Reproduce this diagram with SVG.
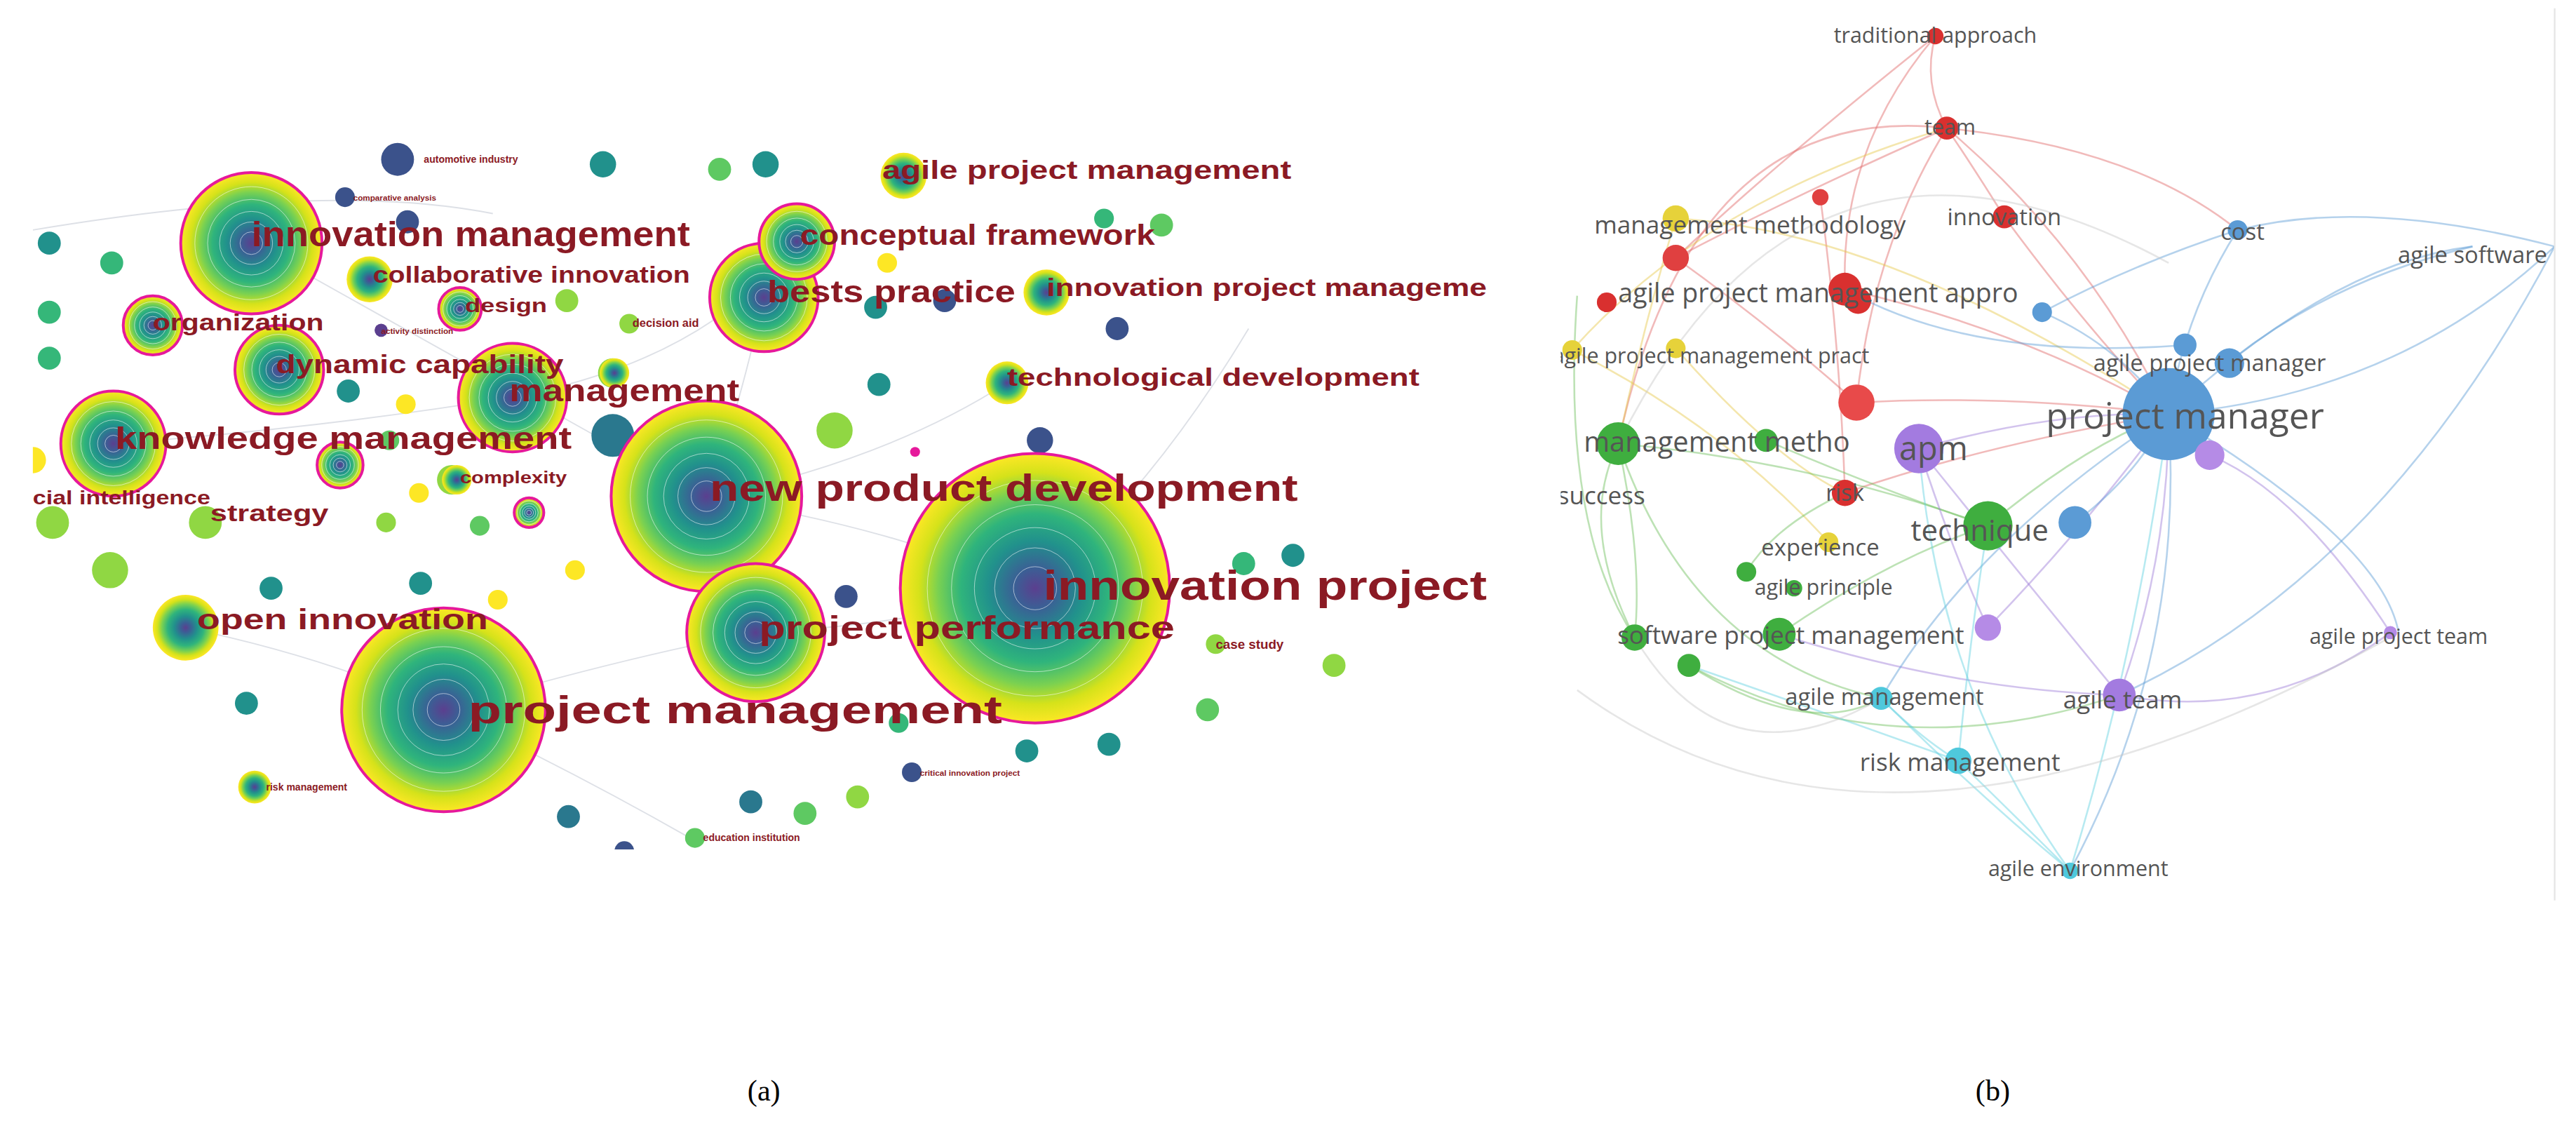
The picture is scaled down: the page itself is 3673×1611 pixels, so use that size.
<svg xmlns="http://www.w3.org/2000/svg" xmlns:xlink="http://www.w3.org/1999/xlink" width="3673" height="1611" viewBox="0 0 3673 1611">
<defs>
<radialGradient id="vir">
<stop offset="0" stop-color="#5b3f8f"/>
<stop offset="0.15" stop-color="#3b5f95"/>
<stop offset="0.35" stop-color="#21918c"/>
<stop offset="0.55" stop-color="#2fb47c"/>
<stop offset="0.72" stop-color="#7ad151"/>
<stop offset="0.86" stop-color="#d5e21a"/>
<stop offset="1" stop-color="#fde725"/>
</radialGradient>
<symbol id="bub" overflow="visible">
<circle r="1" fill="url(#vir)" stroke="#e6199b" stroke-width="4" vector-effect="non-scaling-stroke"/>
<g fill="none" stroke="#fff" stroke-opacity="0.55" stroke-width="1">
<circle r="0.8" vector-effect="non-scaling-stroke"/><circle r="0.62" vector-effect="non-scaling-stroke"/><circle r="0.45" vector-effect="non-scaling-stroke"/><circle r="0.3" vector-effect="non-scaling-stroke"/><circle r="0.16" vector-effect="non-scaling-stroke"/>
</g>
</symbol>
<symbol id="bubY" overflow="visible">
<circle r="1" fill="url(#vir)"/>
</symbol>
<clipPath id="ca"><rect x="20" y="85" width="890" height="432"/></clipPath>
<clipPath id="cb"><rect x="950" y="0" width="605" height="550"/></clipPath>
<style>
.la{font-family:"Liberation Sans",Arial,sans-serif;font-weight:bold;fill:#8b1a24}
.lb{font-family:"Open Sans","Noto Sans",sans-serif;fill:#555}
.cap{font-family:"Liberation Serif","Times New Roman",serif;font-size:18px;fill:#000}
.ea{fill:none;stroke:#cfd3dc;stroke-width:0.8;opacity:0.7}
.eb path{fill:none;stroke-width:1.1;opacity:0.45}
</style>
</defs>
<rect width="3673" height="1611" fill="#fff"/>
<g transform="scale(2.3425)">
<g id="panel-a" clip-path="url(#ca)">
<g id="edges-a">
<path class="ea" d="M20 140 Q200 110 300 130"/><path class="ea" d="M270 432 Q380 400 460 385"/><path class="ea" d="M430 303 Q540 320 630 358"/>
<path class="ea" d="M460 385 Q560 380 630 358"/><path class="ea" d="M153 148 Q300 230 430 303"/><path class="ea" d="M465 180 Q450 250 430 303"/>
<path class="ea" d="M613 233 Q540 280 430 303"/><path class="ea" d="M270 432 Q350 470 420 510"/><path class="ea" d="M630 358 Q700 300 760 200"/>
<path class="ea" d="M70 270 Q200 260 310 242"/><path class="ea" d="M485 147 Q430 220 310 242"/><path class="ea" d="M270 432 Q200 400 113 382"/>
</g>
<g id="dots-a">
<circle cx="242" cy="97" r="10" fill="#3b528b"/><circle cx="210" cy="120" r="6" fill="#3b528b"/><circle cx="367" cy="100" r="8" fill="#21918c"/>
<circle cx="438" cy="103" r="7" fill="#5ec962"/><circle cx="466" cy="100" r="8" fill="#21918c"/><circle cx="30" cy="148" r="7" fill="#21918c"/>
<circle cx="68" cy="160" r="7" fill="#35b779"/><circle cx="540" cy="160" r="6" fill="#fde725"/><circle cx="707" cy="137" r="7" fill="#5ec962"/>
<circle cx="672" cy="133" r="6" fill="#35b779"/><circle cx="575" cy="183" r="7" fill="#3b528b"/><circle cx="533" cy="187" r="7" fill="#21918c"/>
<circle cx="680" cy="200" r="7" fill="#3b528b"/><circle cx="30" cy="190" r="7" fill="#35b779"/><circle cx="345" cy="183" r="7" fill="#90d743"/>
<circle cx="248" cy="135" r="7" fill="#3b528b"/><circle cx="212" cy="238" r="7" fill="#21918c"/><circle cx="247" cy="246" r="6" fill="#fde725"/>
<circle cx="373" cy="227" r="9" fill="#90d743"/><circle cx="373" cy="265" r="13" fill="#2a788e"/><circle cx="508" cy="262" r="11" fill="#90d743"/>
<circle cx="535" cy="234" r="7" fill="#21918c"/><circle cx="633" cy="268" r="8" fill="#3b528b"/><circle cx="30" cy="218" r="7" fill="#35b779"/>
<circle cx="20" cy="280" r="8" fill="#fde725"/><circle cx="237" cy="268" r="6" fill="#5ec962"/><circle cx="255" cy="300" r="6" fill="#fde725"/>
<circle cx="275" cy="292" r="9" fill="#90d743"/><circle cx="235" cy="318" r="6" fill="#90d743"/><circle cx="125" cy="318" r="10" fill="#90d743"/>
<circle cx="67" cy="347" r="11" fill="#90d743"/><circle cx="350" cy="347" r="6" fill="#fde725"/><circle cx="292" cy="320" r="6" fill="#5ec962"/>
<circle cx="32" cy="318" r="10" fill="#90d743"/><circle cx="256" cy="355" r="7" fill="#21918c"/><circle cx="165" cy="358" r="7" fill="#21918c"/>
<circle cx="150" cy="428" r="7" fill="#21918c"/><circle cx="515" cy="363" r="7" fill="#3b528b"/><circle cx="303" cy="365" r="6" fill="#fde725"/>
<circle cx="757" cy="343" r="7" fill="#35b779"/><circle cx="787" cy="338" r="7" fill="#21918c"/><circle cx="812" cy="405" r="7" fill="#90d743"/>
<circle cx="735" cy="432" r="7" fill="#5ec962"/><circle cx="625" cy="457" r="7" fill="#21918c"/><circle cx="675" cy="453" r="7" fill="#21918c"/>
<circle cx="547" cy="440" r="6" fill="#35b779"/><circle cx="522" cy="485" r="7" fill="#90d743"/><circle cx="457" cy="488" r="7" fill="#2a788e"/>
<circle cx="555" cy="470" r="6" fill="#3b528b"/><circle cx="346" cy="497" r="7" fill="#2a788e"/><circle cx="490" cy="495" r="7" fill="#5ec962"/>
<circle cx="380" cy="518" r="6" fill="#3b528b"/><circle cx="423" cy="510" r="6" fill="#5ec962"/><circle cx="740" cy="392" r="6" fill="#90d743"/>
<circle cx="557" cy="275" r="3" fill="#e6199b"/><circle cx="232" cy="201" r="4" fill="#5b3f8f"/><circle cx="383" cy="197" r="6" fill="#90d743"/>
</g>
<g id="bubbles-a">
<g id="n-pm"><use xlink:href="#bub" transform="translate(270,432) scale(62)"/></g>
<g id="n-ip"><use xlink:href="#bub" transform="translate(630,358) scale(82)"/></g>
<g id="n-npd"><use xlink:href="#bub" transform="translate(430,302) scale(58)"/></g>
<g id="n-pp"><use xlink:href="#bub" transform="translate(460,385) scale(42)"/></g>
<g id="n-im"><use xlink:href="#bub" transform="translate(153,148) scale(43)"/></g>
<g id="n-bp"><use xlink:href="#bub" transform="translate(465,181) scale(33)"/></g>
<g id="n-cf"><use xlink:href="#bub" transform="translate(485,147) scale(23)"/></g>
<g id="n-m"><use xlink:href="#bub" transform="translate(312,242) scale(33)"/></g>
<g id="n-km"><use xlink:href="#bub" transform="translate(69,270) scale(32)"/></g>
<g id="n-dc"><use xlink:href="#bub" transform="translate(170,225) scale(27)"/></g>
<g id="n-org"><use xlink:href="#bub" transform="translate(93,198) scale(18)"/></g>
<g id="n-des"><use xlink:href="#bub" transform="translate(280,188) scale(13)"/></g>
<g id="n-s1"><use xlink:href="#bub" transform="translate(207,283) scale(14)"/></g>
<g id="n-s2"><use xlink:href="#bub" transform="translate(322,312) scale(9)"/></g>
<g id="n-oi"><use xlink:href="#bubY" transform="translate(113,382) scale(20)"/></g>
<g id="n-ci"><use xlink:href="#bubY" transform="translate(225,170) scale(14)"/></g>
<g id="n-apm"><use xlink:href="#bubY" transform="translate(550,107) scale(14)"/></g>
<g id="n-ipm"><use xlink:href="#bubY" transform="translate(637,178) scale(14)"/></g>
<g id="n-td"><use xlink:href="#bubY" transform="translate(613,233) scale(13)"/></g>
<g id="n-cx"><use xlink:href="#bubY" transform="translate(278,292) scale(9)"/></g>
<g id="n-rm"><use xlink:href="#bubY" transform="translate(155,479) scale(10)"/></g>
<g id="n-kx"><use xlink:href="#bubY" transform="translate(374,227) scale(9)"/></g>
</g>
<g id="labels-a">
<text class="la" x="153" y="150" font-size="21" textLength="267" lengthAdjust="spacingAndGlyphs">innovation management</text>
<text class="la" x="487" y="149" font-size="17" textLength="216" lengthAdjust="spacingAndGlyphs">conceptual framework</text>
<text class="la" x="537" y="109" font-size="16" textLength="249" lengthAdjust="spacingAndGlyphs">agile project management</text>
<text class="la" x="227" y="172" font-size="14" textLength="193" lengthAdjust="spacingAndGlyphs">collaborative innovation</text>
<text class="la" x="637" y="180" font-size="15" textLength="268" lengthAdjust="spacingAndGlyphs">innovation project manageme</text>
<text class="la" x="283" y="190" font-size="12" textLength="50" lengthAdjust="spacingAndGlyphs">design</text>
<text class="la" x="93" y="201" font-size="14" textLength="104" lengthAdjust="spacingAndGlyphs">organization</text>
<text class="la" x="467" y="184" font-size="19" textLength="151" lengthAdjust="spacingAndGlyphs">bests practice</text>
<text class="la" x="613" y="235" font-size="15" textLength="251" lengthAdjust="spacingAndGlyphs">technological development</text>
<text class="la" x="168" y="227" font-size="16" textLength="175" lengthAdjust="spacingAndGlyphs">dynamic capability</text>
<text class="la" x="310" y="244" font-size="19" textLength="140" lengthAdjust="spacingAndGlyphs">management</text>
<text class="la" x="70" y="273" font-size="19" textLength="278" lengthAdjust="spacingAndGlyphs">knowledge management</text>
<text class="la" x="280" y="294" font-size="10" textLength="65" lengthAdjust="spacingAndGlyphs">complexity</text>
<text class="la" x="20" y="307" font-size="12" textLength="108" lengthAdjust="spacingAndGlyphs">cial intelligence</text>
<text class="la" x="128" y="317" font-size="14" textLength="72" lengthAdjust="spacingAndGlyphs">strategy</text>
<text class="la" x="432" y="305" font-size="23" textLength="358" lengthAdjust="spacingAndGlyphs">new product development</text>
<text class="la" x="635" y="365" font-size="25" textLength="270" lengthAdjust="spacingAndGlyphs">innovation project</text>
<text class="la" x="462" y="389" font-size="20" textLength="253" lengthAdjust="spacingAndGlyphs">project performance</text>
<text class="la" x="120" y="383" font-size="17" textLength="177" lengthAdjust="spacingAndGlyphs">open innovation</text>
<text class="la" x="285" y="440" font-size="24" textLength="325" lengthAdjust="spacingAndGlyphs">project management</text>
<text class="la" x="740" y="395" font-size="8">case study</text>
<text class="la" x="162" y="481" font-size="6">risk management</text>
<text class="la" x="560" y="472" font-size="5">critical innovation project</text>
<text class="la" x="428" y="512" font-size="6">education institution</text>
<text class="la" x="258" y="99" font-size="6">automotive industry</text>
<text class="la" x="215" y="122" font-size="5">comparative analysis</text>
<text class="la" x="232" y="203" font-size="5">activity distinction</text>
<text class="la" x="385" y="199" font-size="7">decision aid</text>
</g>
</g>
<g id="panel-b" clip-path="url(#cb)">
<g id="connectors" class="eb">
<path stroke="#e06666" d="M1178 22 Q1170 50 1185 78"/><path stroke="#e06666" d="M1178 22 Q1120 90 1123 176"/><path stroke="#e06666" d="M1178 22 Q1080 100 1020 157"/>
<path stroke="#e06666" d="M1185 78 Q1200 100 1220 132"/><path stroke="#e06666" d="M1185 78 Q1140 150 1130 245"/><path stroke="#e06666" d="M1185 78 Q1090 120 1020 157"/>
<path stroke="#e06666" d="M1185 78 Q1300 90 1362 140"/><path stroke="#e06666" d="M1185 78 Q1270 150 1320 252"/><path stroke="#e06666" d="M1220 132 Q1270 200 1320 252"/>
<path stroke="#e06666" d="M1123 176 Q1230 200 1320 252"/><path stroke="#e06666" d="M1130 245 Q1220 240 1320 252"/><path stroke="#e06666" d="M1123 300 Q1210 270 1320 252"/>
<path stroke="#e06666" d="M1108 120 Q1120 210 1123 300"/><path stroke="#e06666" d="M1020 157 Q1080 200 1130 245"/><path stroke="#e06666" d="M1185 78 Q1030 60 985 270"/>
<path stroke="#e6c84a" d="M1020 133 Q1000 200 985 270"/><path stroke="#e6c84a" d="M957 213 Q1050 260 1113 330"/><path stroke="#e6c84a" d="M1020 212 Q1080 280 1123 300"/>
<path stroke="#e6c84a" d="M1020 133 Q1150 140 1320 252"/><path stroke="#e6c84a" d="M957 213 Q1040 120 1185 78"/>
<path stroke="#6cbf5a" d="M985 270 Q1000 340 995 388"/><path stroke="#6cbf5a" d="M985 270 Q1100 280 1210 320"/><path stroke="#6cbf5a" d="M1083 386 Q1150 340 1210 320"/>
<path stroke="#6cbf5a" d="M995 388 Q960 320 985 270"/><path stroke="#6cbf5a" d="M1075 268 Q1150 300 1210 320"/><path stroke="#6cbf5a" d="M1210 320 Q1270 270 1320 252"/>
<path stroke="#6cbf5a" d="M1028 405 Q1100 450 1145 425"/><path stroke="#6cbf5a" d="M985 270 Q1030 400 1145 425"/><path stroke="#6cbf5a" d="M1063 348 Q1080 320 1123 300"/>
<path stroke="#6cbf5a" d="M960 180 Q950 320 995 388"/><path stroke="#6cbf5a" d="M1028 405 Q1150 470 1290 423"/>
<path stroke="#9b79d6" d="M1168 273 Q1250 250 1320 252"/><path stroke="#9b79d6" d="M1290 423 Q1320 340 1320 252"/><path stroke="#9b79d6" d="M1455 385 Q1400 300 1345 277"/>
<path stroke="#9b79d6" d="M1210 382 Q1270 320 1320 252"/><path stroke="#9b79d6" d="M1168 273 Q1190 340 1210 382"/><path stroke="#9b79d6" d="M1290 423 Q1380 440 1455 385"/>
<path stroke="#9b79d6" d="M1168 273 Q1230 350 1290 423"/><path stroke="#9b79d6" d="M1083 386 Q1190 420 1290 423"/>
<path stroke="#5b9bd5" d="M1320 252 Q1330 190 1362 140"/><path stroke="#5b9bd5" d="M1320 252 Q1420 160 1505 150"/><path stroke="#5b9bd5" d="M1357 220 Q1420 170 1505 150"/>
<path stroke="#5b9bd5" d="M1243 190 Q1300 160 1362 140"/><path stroke="#5b9bd5" d="M1243 190 Q1290 210 1320 252"/><path stroke="#5b9bd5" d="M1263 318 Q1300 290 1320 252"/>
<path stroke="#5b9bd5" d="M1320 252 Q1330 400 1260 530"/><path stroke="#5b9bd5" d="M1362 140 Q1440 120 1555 150"/><path stroke="#5b9bd5" d="M1320 252 Q1460 240 1555 150"/>
<path stroke="#5b9bd5" d="M1330 210 Q1200 220 1123 176"/><path stroke="#5b9bd5" d="M1320 252 Q1200 330 1145 425"/><path stroke="#5b9bd5" d="M1320 252 Q1450 330 1460 385"/>
<path stroke="#5b9bd5" d="M1555 150 Q1450 350 1290 423"/>
<path stroke="#5fd0e0" d="M1192 463 Q1230 500 1260 530"/><path stroke="#5fd0e0" d="M1145 425 Q1170 450 1192 463"/><path stroke="#5fd0e0" d="M1192 463 Q1200 380 1210 320"/>
<path stroke="#5fd0e0" d="M1260 530 Q1300 400 1320 252"/><path stroke="#5fd0e0" d="M1145 425 Q1200 480 1260 530"/><path stroke="#5fd0e0" d="M1192 463 Q1100 430 1028 405"/>
<path stroke="#5fd0e0" d="M1260 530 Q1180 420 1168 273"/>
<path stroke="#c8c8c8" d="M985 270 Q1100 40 1320 160"/><path stroke="#c8c8c8" d="M960 420 Q1150 560 1460 385"/><path stroke="#c8c8c8" d="M995 388 Q1050 480 1145 425"/>
</g>
<g id="nodes-b">
<g id="b-trad"><circle cx="1178" cy="22" r="5" fill="#d9302f"/><text class="lb" x="1178" y="26" font-size="13" text-anchor="middle">traditional approach</text></g>
<g id="b-team"><circle cx="1185" cy="78" r="7" fill="#d9302f"/><text class="lb" x="1187" y="82" font-size="13" text-anchor="middle">team</text></g>
<g id="b-r1"><circle cx="1108" cy="120" r="5" fill="#e04040"/></g>
<g id="b-innov"><circle cx="1220" cy="132" r="7" fill="#d9302f"/><text class="lb" x="1220" y="137" font-size="14" text-anchor="middle">innovation</text></g>
<g id="b-mmeth"><circle cx="1020" cy="133" r="8" fill="#e6d23a"/><circle cx="1020" cy="157" r="8" fill="#e04040"/><text class="lb" x="1160" y="142" font-size="15" text-anchor="end">management methodology</text></g>
<g id="b-apma"><circle cx="978" cy="184" r="6" fill="#d9302f"/><circle cx="1123" cy="176" r="10" fill="#d9302f"/><circle cx="1131" cy="183" r="8" fill="#d9302f"/><text class="lb" x="985" y="184" font-size="16" fill="#6b3030">agile project management appro</text></g>
<g id="b-blue1"><circle cx="1243" cy="190" r="6" fill="#5b9bd5"/></g>
<g id="b-apmp"><circle cx="957" cy="213" r="6" fill="#e6d23a"/><circle cx="1020" cy="212" r="6" fill="#e6d23a"/><text class="lb" x="945" y="221" font-size="13">agile project management pract</text></g>
<g id="b-red2"><circle cx="1130" cy="245" r="11" fill="#e84a4a"/></g>
<g id="b-mm"><circle cx="985" cy="270" r="13" fill="#3fae3f"/><circle cx="1075" cy="268" r="7" fill="#3fae3f"/><text class="lb" x="1126" y="275" font-size="17" text-anchor="end">management metho</text></g>
<g id="b-succ"><text class="lb" x="948" y="307" font-size="15">success</text></g>
<g id="b-apm"><circle cx="1168" cy="273" r="15" fill="#a37be0"/><text class="lb" x="1156" y="280" font-size="20">apm</text></g>
<g id="b-risk"><circle cx="1123" cy="300" r="8" fill="#d9302f"/><text class="lb" x="1123" y="305" font-size="14" text-anchor="middle">risk</text></g>
<g id="b-tech"><circle cx="1210" cy="320" r="15" fill="#3fae3f"/><circle cx="1263" cy="318" r="10" fill="#5b9bd5"/><text class="lb" x="1205" y="329" font-size="18" text-anchor="middle">technique</text></g>
<g id="b-pm"><circle cx="1320" cy="252" r="28" fill="#5b9bd5"/><circle cx="1345" cy="277" r="9" fill="#b58be6"/><text class="lb" x="1330" y="261" font-size="22" text-anchor="middle" fill="#444">project manager</text></g>
<g id="b-apmgr"><circle cx="1330" cy="210" r="7" fill="#5b9bd5"/><circle cx="1357" cy="221" r="9" fill="#5b9bd5"/><text class="lb" x="1345" y="226" font-size="14" text-anchor="middle">agile project manager</text></g>
<g id="b-cost"><circle cx="1362" cy="140" r="6" fill="#5b9bd5"/><text class="lb" x="1365" y="146" font-size="14" text-anchor="middle">cost</text></g>
<g id="b-asw"><text class="lb" x="1505" y="160" font-size="14" text-anchor="middle">agile software</text></g>
<g id="b-exp"><circle cx="1113" cy="330" r="6" fill="#e6d23a"/><text class="lb" x="1108" y="338" font-size="14" text-anchor="middle">experience</text></g>
<g id="b-aprin"><circle cx="1063" cy="348" r="6" fill="#3fae3f"/><circle cx="1092" cy="358" r="5" fill="#3fae3f"/><text class="lb" x="1110" y="362" font-size="13" text-anchor="middle">agile principle</text></g>
<g id="b-spm"><circle cx="1083" cy="386" r="10" fill="#3fae3f"/><circle cx="995" cy="388" r="8" fill="#3fae3f"/><circle cx="1028" cy="405" r="7" fill="#3fae3f"/><circle cx="1210" cy="382" r="8" fill="#b58be6"/><text class="lb" x="1090" y="392" font-size="15" text-anchor="middle">software project management</text></g>
<g id="b-am"><circle cx="1145" cy="425" r="7" fill="#4fc8dc"/><text class="lb" x="1147" y="429" font-size="14" text-anchor="middle">agile management</text></g>
<g id="b-at"><circle cx="1290" cy="423" r="10" fill="#a37be0"/><text class="lb" x="1292" y="431" font-size="15" text-anchor="middle">agile team</text></g>
<g id="b-apt"><circle cx="1455" cy="385" r="4" fill="#b58be6"/><text class="lb" x="1460" y="392" font-size="13" text-anchor="middle">agile project team</text></g>
<g id="b-rm"><circle cx="1192" cy="463" r="8" fill="#4fc8dc"/><text class="lb" x="1193" y="469" font-size="15" text-anchor="middle">risk management</text></g>
<g id="b-ae"><circle cx="1260" cy="530" r="5" fill="#4fc8dc"/><text class="lb" x="1265" y="533" font-size="13" text-anchor="middle">agile environment</text></g>
</g>
</g>
<line x1="1555" y1="5" x2="1555" y2="548" stroke="#e6e6e6" stroke-width="1"/>
<text class="cap" x="465" y="670" text-anchor="middle">(a)</text>
<text class="cap" x="1213" y="670" text-anchor="middle">(b)</text>
</g>
</svg>
